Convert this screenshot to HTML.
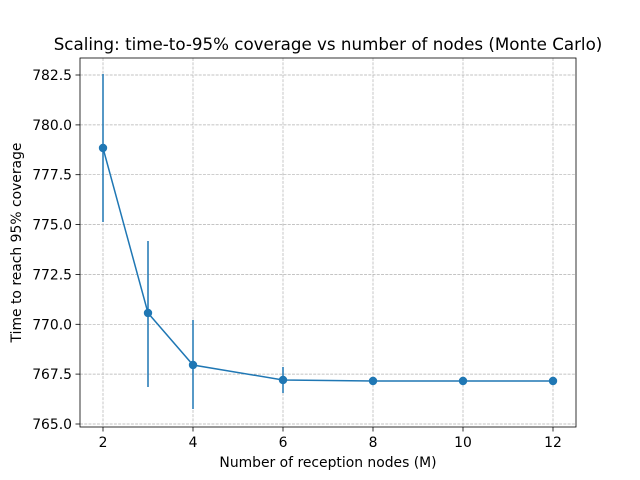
<!DOCTYPE html>
<html><head><meta charset="utf-8"><style>body{margin:0;background:#fff}svg{display:block}</style></head><body>
<svg width="640" height="480" xmlns="http://www.w3.org/2000/svg" font-family="DejaVu Sans, Liberation Sans, sans-serif">
<rect width="640" height="480" fill="#fff"/>
<g stroke="#b0b0b0" stroke-width="0.7" stroke-dasharray="2.96,1.28">
<line x1="103" y1="58" x2="103" y2="427"/><line x1="193" y1="58" x2="193" y2="427"/><line x1="283" y1="58" x2="283" y2="427"/><line x1="373" y1="58" x2="373" y2="427"/><line x1="463" y1="58" x2="463" y2="427"/><line x1="553" y1="58" x2="553" y2="427"/>
<line x1="80" y1="424" x2="576" y2="424"/><line x1="80" y1="374.1" x2="576" y2="374.1"/><line x1="80" y1="324.3" x2="576" y2="324.3"/><line x1="80" y1="274.4" x2="576" y2="274.4"/><line x1="80" y1="224.6" x2="576" y2="224.6"/><line x1="80" y1="174.7" x2="576" y2="174.7"/><line x1="80" y1="124.9" x2="576" y2="124.9"/><line x1="80" y1="75" x2="576" y2="75"/>
</g>
<g stroke="#1f77b4" stroke-width="1.5" fill="none">
<line x1="103" y1="222" x2="103" y2="74"/><line x1="148" y1="387" x2="148" y2="241"/><line x1="193" y1="409" x2="193" y2="320"/><line x1="283" y1="393" x2="283" y2="367"/>
<polyline points="103,148 148,313 193,365 283,380 373,381 463,381 553,381"/>
</g>
<g fill="#1f77b4"><circle cx="103" cy="148" r="4.2"/><circle cx="148" cy="313" r="4.2"/><circle cx="193" cy="365" r="4.2"/><circle cx="283" cy="380" r="4.2"/><circle cx="373" cy="381" r="4.2"/><circle cx="463" cy="381" r="4.2"/><circle cx="553" cy="381" r="4.2"/></g>
<rect x="80" y="58" width="496" height="369" fill="none" stroke="#000" stroke-width="0.8"/>
<g stroke="#000" stroke-width="0.8">
<line x1="103" y1="427" x2="103" y2="431.5"/><line x1="193" y1="427" x2="193" y2="431.5"/><line x1="283" y1="427" x2="283" y2="431.5"/><line x1="373" y1="427" x2="373" y2="431.5"/><line x1="463" y1="427" x2="463" y2="431.5"/><line x1="553" y1="427" x2="553" y2="431.5"/>
<line x1="75.5" y1="424" x2="80" y2="424"/><line x1="75.5" y1="374.1" x2="80" y2="374.1"/><line x1="75.5" y1="324.3" x2="80" y2="324.3"/><line x1="75.5" y1="274.4" x2="80" y2="274.4"/><line x1="75.5" y1="224.6" x2="80" y2="224.6"/><line x1="75.5" y1="174.7" x2="80" y2="174.7"/><line x1="75.5" y1="124.9" x2="80" y2="124.9"/><line x1="75.5" y1="75" x2="80" y2="75"/>
</g>
<g font-size="13.9" text-anchor="middle">
<text x="103" y="447">2</text><text x="193" y="447">4</text><text x="283" y="447">6</text><text x="373" y="447">8</text><text x="463" y="447">10</text><text x="553" y="447">12</text>
</g>
<g font-size="13.9" text-anchor="end">
<text x="72" y="429">765.0</text><text x="72" y="379.1">767.5</text><text x="72" y="329.3">770.0</text><text x="72" y="279.4">772.5</text><text x="72" y="229.6">775.0</text><text x="72" y="179.7">777.5</text><text x="72" y="129.9">780.0</text><text x="72" y="80">782.5</text>
</g>
<text x="328" y="467" font-size="13.9" text-anchor="middle">Number of reception nodes (M)</text>
<text transform="translate(21,242.5) rotate(-90)" font-size="13.9" text-anchor="middle">Time to reach 95% coverage</text>
<text x="328" y="50" font-size="16.7" text-anchor="middle">Scaling: time-to-95% coverage vs number of nodes (Monte Carlo)</text>
</svg>
</body></html>
